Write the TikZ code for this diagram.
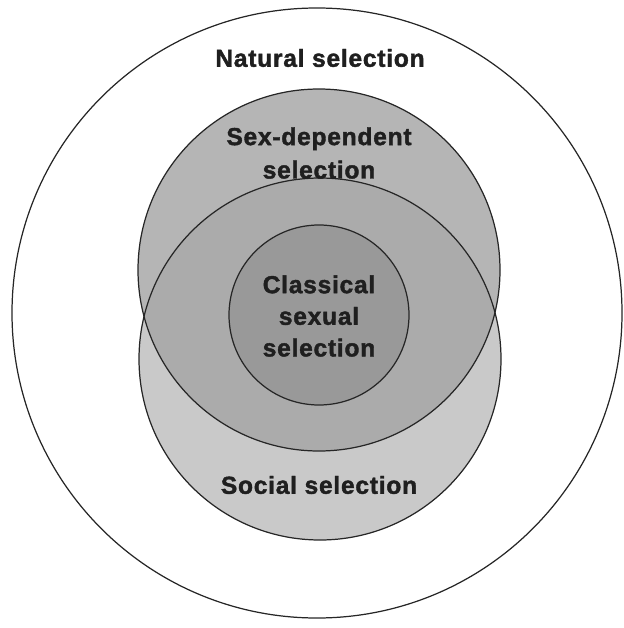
\documentclass[tikz,border=0pt]{standalone}
\usepackage{fontspec}
\newfontfamily\lblfont{Liberation Sans}[LetterSpace=3, FakeBold=1.6]
\begin{document}
\begin{tikzpicture}[
  x=0.02cm, y=-0.02cm,
  ring/.style={draw, line width=0.7pt, black!85},
  lbl/.style={font=\lblfont\bfseries\fontsize{14}{16}\selectfont, text=black!88, align=center, inner sep=0pt},
]
\useasboundingbox (0,0) rectangle (624,628);

% ====== Outer circle: natural selection ======
\draw[ring] (317,313) circle (305);

% ====== Sex-dependent and social circles ======
\fill[black!29] (319,270) circle (181);
\fill[black!21] (320,359) circle (181);
\begin{scope}
  \clip (319,270) circle (181);
  \fill[black!33] (320,359) circle (181);
\end{scope}
\draw[ring] (319,270) circle (181);
\draw[ring] (320,359) circle (181);

% ====== Inner circle: classical sexual selection ======
\draw[ring, fill=black!40] (319,315) circle (90);

% ====== Labels ======
\node[lbl] (nat) at (320,58) {Natural selection};
\node[lbl] (sexdep) at (319,153) {Sex-dependent\\[3pt]selection};
\node[lbl] (classic) at (319,316) {Classical\\[2pt]sexual\\[2pt]selection};
\node[lbl] (social) at (319,485) {Social selection};

\end{tikzpicture}
\end{document}
